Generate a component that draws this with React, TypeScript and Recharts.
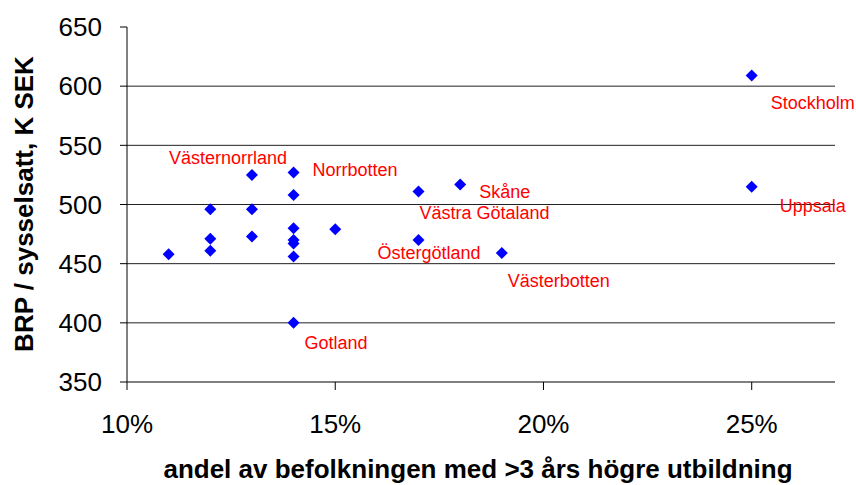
import React from "react";
import {
  ScatterChart,
  Scatter,
  XAxis,
  YAxis,
  CartesianGrid,
} from "recharts";

// andel av befolkningen med >3 års högre utbildning (%), BRP per sysselsatt (K SEK)
const SHARES = [11, 12, 12, 12, 13, 13, 13, 14, 14, 14, 14, 14, 14, 14, 15, 17, 17, 18, 19, 25, 25];
const GRP = [458, 496, 471, 461, 525, 496, 473, 527, 508, 480, 470, 467, 456, 400, 479, 511, 470, 517, 459, 609, 515];
const NAMES = [
  "", "", "", "", "Västernorrland", "", "", "Norrbotten", "", "", "", "", "", "Gotland",
  "", "Västra Götaland", "Östergötland", "Skåne", "Västerbotten", "Stockholm", "Uppsala",
];
const X_TICKS = [10, 15, 20, 25];
const Y_TICKS = [350, 400, 450, 500, 550, 600, 650];

// label placement relative to the marker (text start, baseline)
const LABEL_OFFSETS: Record<string, [number, number]> = {
  "Västernorrland": [-83, -11],
  Norrbotten: [19, 3],
  Gotland: [11, 26],
  "Västra Götaland": [1, 28],
  "Östergötland": [-41, 19],
  "Skåne": [19, 14],
  "Västerbotten": [6, 34],
  Stockholm: [19, 33],
  Uppsala: [28, 25],
};

const FONT = "'Liberation Sans', Arial, sans-serif";

const data = SHARES.map((x, i) => ({ x, y: GRP[i], name: NAMES[i] }));

function Marker(props: any) {
  const { cx, cy, payload } = props;
  const off = LABEL_OFFSETS[payload.name];
  return (
    <g>
      <path
        d={`M${cx},${cy - 6}L${cx + 6},${cy}L${cx},${cy + 6}L${cx - 6},${cy}Z`}
        fill="#0000FF"
      />
      {off && (
        <text x={cx + off[0]} y={cy + off[1]} fill="#FF0000" fontSize={18} fontFamily={FONT}>
          {payload.name}
        </text>
      )}
    </g>
  );
}

export default function App() {
  return (
    <div style={{ position: "absolute", left: 0, top: 0, background: "#fff" }}>
      <ScatterChart
        width={856}
        height={485}
        margin={{ top: 27, right: 21, bottom: 0, left: 0 }}
      >
        <CartesianGrid
          vertical={false}
          horizontalValues={[400, 450, 500, 550, 600]}
          stroke="#222"
        />
        <XAxis
          type="number"
          dataKey="x"
          domain={[10, 27]}
          ticks={X_TICKS}
          tickFormatter={(v: number) => `${v}%`}
          height={103}
          tickSize={8}
          tickMargin={25}
          axisLine={{ stroke: "#000" }}
          tickLine={{ stroke: "#000" }}
          tick={{ fill: "#000", fontSize: 26, fontFamily: FONT }}
          label={{
            content: () => (
              <text
                x={478}
                y={478}
                textAnchor="middle"
                fontSize={26}
                fontWeight="bold"
                fontFamily={FONT}
                fill="#000"
              >
                andel av befolkningen med &gt;3 års högre utbildning
              </text>
            ),
          }}
        />
        <YAxis
          type="number"
          dataKey="y"
          domain={[350, 650]}
          ticks={Y_TICKS}
          width={127}
          tickSize={7}
          tickMargin={18}
          axisLine={{ stroke: "#000" }}
          tickLine={{ stroke: "#000" }}
          tick={{ fill: "#000", fontSize: 26, fontFamily: FONT }}
          label={{
            content: () => (
              <text
                x={33}
                y={204}
                transform="rotate(-90, 33, 204)"
                textAnchor="middle"
                fontSize={26}
                fontWeight="bold"
                fontFamily={FONT}
                fill="#000"
              >
                BRP / sysselsatt, K SEK
              </text>
            ),
          }}
        />
        <Scatter data={data} shape={Marker} isAnimationActive={false} />
      </ScatterChart>
    </div>
  );
}
